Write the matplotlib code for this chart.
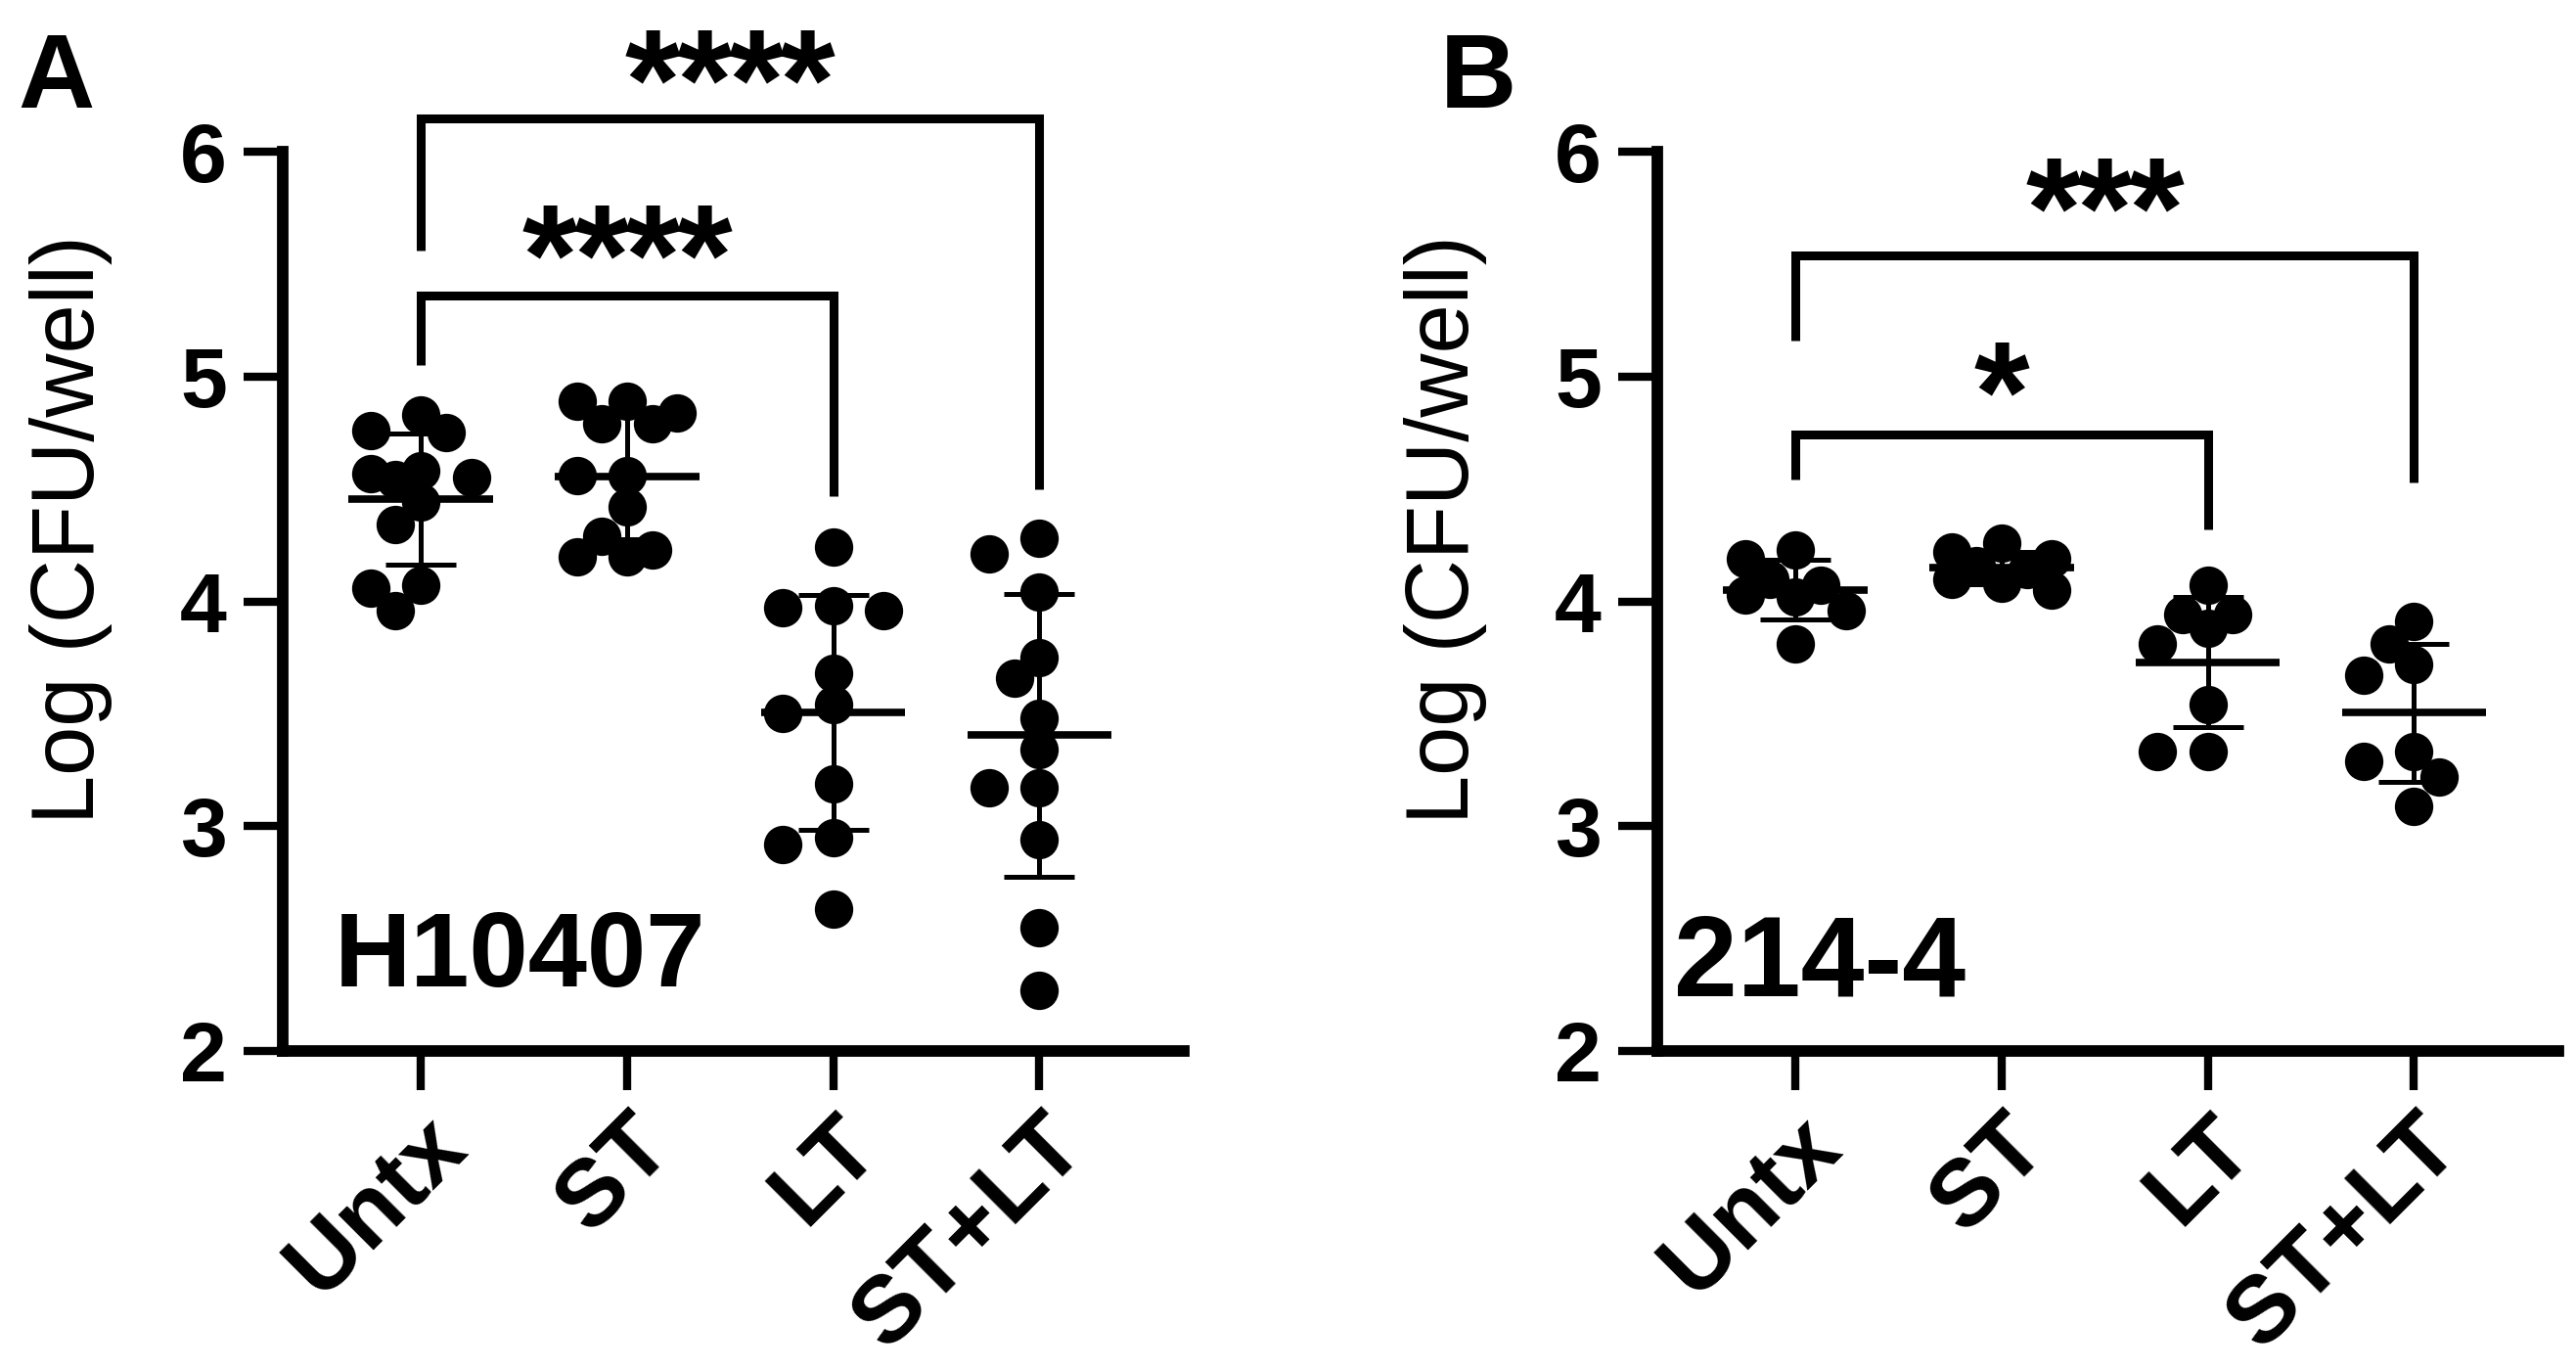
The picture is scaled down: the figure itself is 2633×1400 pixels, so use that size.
import numpy as np
import matplotlib.pyplot as plt

plt.rcParams['font.family'] = ['Liberation Sans', 'DejaVu Sans']

# ---------------------------
# Data (log CFU/well)
# ---------------------------
groups = ["Untx", "ST", "LT", "ST+LT"]

untx_a = [4.83, 4.76, 4.75, 4.58, 4.57, 4.55, 4.54, 4.44, 4.34, 4.07, 4.06, 3.96]
st_a = [4.89, 4.89, 4.84, 4.79, 4.79, 4.56, 4.56, 4.42, 4.29, 4.23, 4.20, 4.20]
lt_a = [4.24, 3.98, 3.97, 3.96, 3.68, 3.54, 3.50, 3.19, 2.95, 2.92, 2.63]
stlt_a = [4.28, 4.21, 4.04, 3.75, 3.66, 3.48, 3.34, 3.17, 3.17, 2.94, 2.55, 2.27]

untx_b = [4.23, 4.19, 4.10, 4.07, 4.03, 4.02, 3.96, 3.81]
st_b = [4.26, 4.22, 4.19, 4.16, 4.14, 4.10, 4.08, 4.05]
lt_b = [4.07, 3.94, 3.94, 3.88, 3.81, 3.54, 3.33, 3.33]
stlt_b = [3.91, 3.81, 3.72, 3.67, 3.33, 3.29, 3.22, 3.09]

# comparisons: (group 1, group 2, stars)
comps_a = [(0, 3, "****"), (0, 2, "****")]
comps_b = [(0, 3, "***"), (0, 2, "*")]

# ---------------------------
# Helpers
# ---------------------------
def swarm(vals, px_x, px_y, step=0.122, min_dist=31):
    # simple greedy beeswarm: highest value first, closest free slot to centre
    order = np.argsort(vals)[::-1]
    offs = np.zeros(len(vals))
    placed = []
    cands = [0, -1, 1, -2, 2]
    for i in order:
        best, best_d = 0, -1
        for c in cands:
            if not placed:
                d = 1e9
            else:
                d = min(np.hypot((c * step - offs[j]) * px_x, (vals[i] - vals[j]) * px_y) for j in placed)
            if d >= min_dist:
                best = c
                break
            if d > best_d:
                best, best_d = c, d
        offs[i] = best * step
        placed.append(i)
    return offs


def bracket(ax, g1, g2, top, leg1, leg2, stars, star_y):
    ax.plot([g1, g1, g2, g2], [leg1, top, top, leg2], color="black", lw=6.5,
            clip_on=False, solid_joinstyle="miter", solid_capstyle="butt")
    fs = 105
    em = fs * fig.dpi / 72
    px_y = ax.transData.transform((0, 1))[1] - ax.transData.transform((0, 0))[1]
    base = star_y - 0.56 * em / px_y  # asterisk ink sits ~0.56 em above baseline
    mid = (g1 + g2) / 2
    n = len(stars)
    for k, s in enumerate(stars):
        ax.text(mid + (k - (n - 1) / 2) * 0.25, base, s, ha="center", va="baseline",
                fontsize=fs, fontweight="bold", clip_on=False)


def panel(rect, data, strain, strain_x, strain_y, strain_fs, comps, tops, legs, star_ys,
          letter, letter_x):
    ax = fig.add_axes(rect)
    ax.set_xlim(-0.67, 3.70)
    ax.set_ylim(2, 6)
    for side in ["top", "right"]:
        ax.spines[side].set_visible(False)
    for side in ["left", "bottom"]:
        ax.spines[side].set_linewidth(8.5)
    ax.tick_params(width=6, length=29, direction="out")
    ax.tick_params(axis="y", pad=12)
    ax.tick_params(axis="x", pad=8)
    ax.set_yticks([2, 3, 4, 5, 6])
    ax.set_yticklabels(["2", "3", "4", "5", "6"], fontsize=62, fontweight="bold")
    ax.set_xticks(range(len(groups)))
    ax.set_xticklabels(groups, rotation=45, ha="right", va="top", rotation_mode="anchor",
                       fontsize=70, fontweight="bold")
    ax.set_ylabel("Log (CFU/well)", fontsize=65, va="center")
    ax.yaxis.set_label_coords(-0.235, 0.58)

    px_x = ax.transData.transform((1, 0))[0] - ax.transData.transform((0, 0))[0]
    px_y = ax.transData.transform((0, 1))[1] - ax.transData.transform((0, 0))[1]

    for i, vals in enumerate(data):
        v = np.array(vals)
        offs = swarm(v, px_x, px_y)
        ax.scatter(i + offs, v, s=800, color="black", linewidths=0, zorder=3, clip_on=False)
        m = v.mean()
        sd = v.std(ddof=1)
        ax.hlines(m, i - 0.35, i + 0.35, color="black", lw=5.5, zorder=4)
        ax.errorbar(i, m, yerr=sd, fmt="none", ecolor="black", elinewidth=3.6,
                    capsize=26, capthick=3.6, zorder=4)

    for (g1, g2, stars), top, (l1, l2), sy in zip(comps, tops, legs, star_ys):
        bracket(ax, g1, g2, top, l1, l2, stars, sy)

    ax.text(strain_x, strain_y, strain, fontsize=strain_fs, fontweight="bold",
            ha="left", va="center")
    fig.text(letter_x, 1 - 110 / 1400, letter, fontsize=78, fontweight="bold",
             ha="left", va="baseline")
    return ax


fig = plt.figure(figsize=(26.33, 14), dpi=100)

bottom = 326 / 1400
height = 919 / 1400
width = 921 / 2633

panel([289 / 2633, bottom, width, height], [untx_a, st_a, lt_a, stlt_a],
      "H10407", -0.42, 2.41, 78, comps_a,
      tops=[6.15, 5.36], legs=[(5.56, 4.50), (5.05, 4.47)], star_ys=[6.46, 5.68],
      letter="A", letter_x=18 / 2633)

panel([1694 / 2633, bottom, width, height], [untx_b, st_b, lt_b, stlt_b],
      "214-4", -0.59, 2.38, 84, comps_b,
      tops=[5.54, 4.74], legs=[(5.16, 4.53), (4.54, 4.32)], star_ys=[5.89, 5.07],
      letter="B", letter_x=1472 / 2633)

fig.savefig("out.png", dpi=100)
